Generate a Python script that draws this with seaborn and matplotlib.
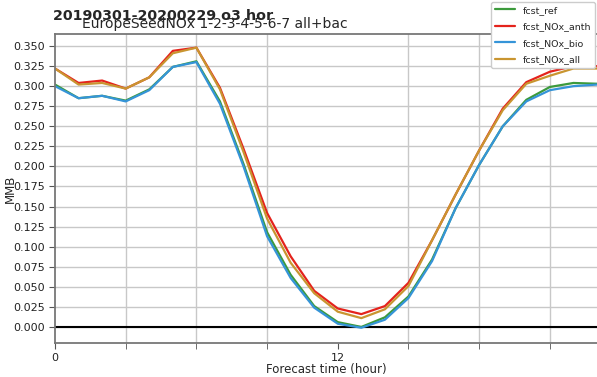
import numpy as np
import pandas as pd
import matplotlib
matplotlib.use("Agg")
import matplotlib.pyplot as plt
from matplotlib.ticker import MultipleLocator, FormatStrFormatter
from matplotlib.lines import Line2D
import seaborn as sns

hours = list(range(24))

fcst_ref = [0.302, 0.285, 0.288, 0.282, 0.296, 0.324, 0.331, 0.281, 0.203, 0.118,
            0.065, 0.026, 0.006, 0.000, 0.012, 0.038, 0.084, 0.148, 0.202, 0.250,
            0.283, 0.299, 0.304, 0.303]
fcst_NOx_anth = [0.322, 0.304, 0.307, 0.297, 0.311, 0.344, 0.348, 0.298, 0.222, 0.142,
                 0.088, 0.045, 0.023, 0.016, 0.026, 0.055, 0.108, 0.165, 0.220, 0.272,
                 0.305, 0.318, 0.325, 0.325]
fcst_NOx_bio = [0.300, 0.285, 0.288, 0.281, 0.295, 0.324, 0.330, 0.278, 0.200, 0.113,
                0.061, 0.024, 0.004, -0.001, 0.009, 0.036, 0.082, 0.148, 0.202, 0.250,
                0.281, 0.295, 0.300, 0.302]
fcst_NOx_all = [0.322, 0.302, 0.304, 0.297, 0.311, 0.341, 0.348, 0.296, 0.218, 0.135,
                0.080, 0.042, 0.019, 0.011, 0.022, 0.051, 0.108, 0.165, 0.220, 0.270,
                0.303, 0.313, 0.322, 0.322]

series = {
    "fcst_ref": fcst_ref,
    "fcst_NOx_anth": fcst_NOx_anth,
    "fcst_NOx_bio": fcst_NOx_bio,
    "fcst_NOx_all": fcst_NOx_all,
}
palette = {
    "fcst_ref": "#3c9a3c",
    "fcst_NOx_anth": "#e4231c",
    "fcst_NOx_bio": "#3594d8",
    "fcst_NOx_all": "#c99530",
}

df = pd.DataFrame(
    [(h, name, v) for name, vals in series.items() for h, v in zip(hours, vals)],
    columns=["hour", "run", "MMB"],
)

sns.set_style("white")
plt.rcParams["font.family"] = ["DejaVu Sans"]

W, H = 597, 377
fig = plt.figure(figsize=(W / 100, H / 100), dpi=100)
ax = fig.add_axes([55 / W, 1 - 343 / H, 542 / W, 309 / H])

sns.lineplot(data=df, x="hour", y="MMB", hue="run", palette=palette,
             linewidth=1.6, ax=ax, legend=False)

ax.axhline(0, color="black", linewidth=1.5, zorder=1)

ax.set_xlim(0, 23)
ax.set_ylim(-0.020, 0.365)
ax.yaxis.set_major_locator(MultipleLocator(0.025))
ax.yaxis.set_major_formatter(FormatStrFormatter("%.3f"))
ax.xaxis.set_major_locator(MultipleLocator(12))
ax.xaxis.set_minor_locator(MultipleLocator(3))
ax.grid(True, axis="y", which="major", color="#c8c8c8", linewidth=1.0)
ax.grid(True, axis="x", which="minor", color="#c8c8c8", linewidth=1.0)
ax.tick_params(axis="both", which="major", labelsize=8, length=4, pad=3,
               color="#555555", labelcolor="#222222", direction="out",
               left=True, bottom=True)
ax.tick_params(axis="x", which="minor", length=4, color="#555555",
               direction="out", bottom=True)
for side in ["left", "bottom", "top"]:
    ax.spines[side].set_color("#777777")
    ax.spines[side].set_linewidth(1.3)
ax.spines["right"].set_visible(False)

ax.set_xlabel("Forecast time (hour)", fontsize=8.5)
ax.set_ylabel("MMB", fontsize=8.5)
ax.xaxis.set_label_coords(0.5, -(369 - 343) / 309, transform=ax.transAxes)
ax.xaxis.label.set_va("center")
ax.yaxis.set_label_coords(-(55 - 10) / 542, 0.5, transform=ax.transAxes)
ax.yaxis.label.set_va("center")

fig.text(53 / W, 1 - 20 / H, "20190301-20200229 o3 hor",
         fontsize=10.3, fontweight="bold", ha="left", va="baseline")
fig.text(82 / W, 1 - 28 / H, "EuropeSeedNOx 1-2-3-4-5-6-7 all+bac",
         fontsize=10, ha="left", va="baseline")

handles = [Line2D([0], [0], color=palette[k], linewidth=1.6) for k in series]
fig.legend(handles, list(series.keys()), loc="upper right",
           bbox_to_anchor=(1.0, 1.0), fontsize=6.8, frameon=True,
           framealpha=1.0, edgecolor="#cccccc", borderaxespad=0.2,
           handlelength=2.2, labelspacing=0.8, borderpad=0.4)

fig.savefig("out.png", dpi=100)
